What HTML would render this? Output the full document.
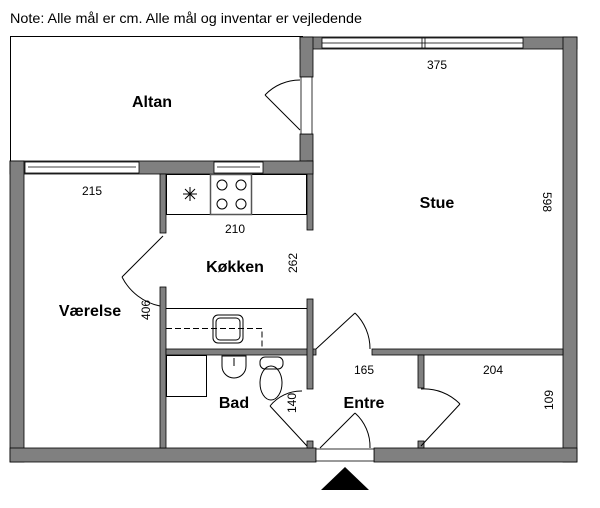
<!DOCTYPE html>
<html><head><style>body{margin:0;background:#fff}svg{display:block}</style></head>
<body>
<svg width="600" height="508" viewBox="0 0 600 508" xmlns="http://www.w3.org/2000/svg" font-family="Liberation Sans, sans-serif">
<text x="10" y="23" font-size="14" textLength="352" lengthAdjust="spacingAndGlyphs">Note: Alle mål er cm. Alle mål og inventar er vejledende</text>
<!-- Altan outline -->
<rect x="10.5" y="36.5" width="292" height="125" fill="none" stroke="#000" stroke-width="1"/>
<g fill="#808080" stroke="#000" stroke-width="0.8">
<!-- Stue top wall -->
<rect x="300" y="37" width="277" height="12"/>
<!-- right outer wall -->
<rect x="563" y="37" width="14" height="425"/>
<!-- Stue left wall (altan) -->
<rect x="300" y="37" width="13" height="40"/>
<rect x="300" y="134" width="13" height="40"/>
<rect x="307" y="161" width="6" height="69"/>
<!-- bedroom top wall -->
<rect x="10" y="161" width="303" height="13"/>
<!-- left outer wall -->
<rect x="10" y="161" width="14" height="301"/>
<!-- bottom wall -->
<rect x="10" y="448" width="306" height="14"/>
<rect x="374" y="448" width="203" height="14"/>
<!-- bedroom/kitchen wall -->
<rect x="160" y="174" width="6" height="59"/>
<rect x="160" y="287" width="6" height="161"/>
<!-- kitchen/bath wall -->
<rect x="166" y="349" width="150" height="6"/>
<rect x="307" y="299" width="6" height="90"/>
<!-- stue/entre wall -->
<rect x="372" y="349" width="191" height="6"/>
<rect x="418" y="355" width="6" height="33"/>
<rect x="418" y="441" width="6" height="7"/>
<rect x="307" y="441" width="6" height="7"/>
</g>
<!-- windows -->
<g fill="#fff" stroke="#000" stroke-width="0.8">
<rect x="322" y="38" width="201" height="10"/>
<line x1="322" y1="43" x2="523" y2="43"/>
<line x1="422" y1="38" x2="422" y2="48"/><line x1="425" y1="38" x2="425" y2="48"/>
<rect x="25" y="162" width="114" height="11"/>
<line x1="28" y1="167" x2="136" y2="167"/>
<rect x="214" y="162" width="49" height="11"/>
<line x1="217" y1="167" x2="260" y2="167"/>
<rect x="301" y="77" width="11" height="57"/>
<rect x="316" y="449" width="58" height="12"/>
</g>
<!-- kitchen counters -->
<g fill="none" stroke="#000" stroke-width="1">
<rect x="166.5" y="174.5" width="140" height="40"/>
<rect x="210.5" y="174.5" width="41" height="40" stroke="#555" stroke-width="1.5"/>
<circle cx="222" cy="185" r="5"/><circle cx="241" cy="185" r="5"/>
<circle cx="222" cy="204" r="5"/><circle cx="241" cy="204" r="5"/>
<path d="M183 194h14M190 187v14M185 189l10 10M195 189l-10 10"/>
<path d="M166 308.5H307"/>
<path d="M166 328.5H262V349" stroke-dasharray="6 3"/>
<rect x="213" y="315" width="30" height="28" rx="5"/>
<rect x="216" y="318" width="24" height="22" rx="4"/>
<!-- bath -->
<rect x="166.5" y="355.5" width="40" height="41"/>
<path d="M222 356h24v10a12 12 0 0 1-24 0z"/>
<line x1="234" y1="358" x2="234" y2="366"/>
<rect x="260" y="357" width="23" height="12" rx="5"/>
<ellipse cx="271" cy="383" rx="11" ry="17"/>
<!-- doors -->
<path d="M300 130L265 95M265 95A48 48 0 0 1 300 80"/>
<path d="M163 236L122 277M122 277A55 55 0 0 0 160 306"/>
<path d="M316 349L355 313M355 313A50 50 0 0 1 370 349"/>
<path d="M307 446L270 406M270 406A40 40 0 0 1 302 391"/>
<path d="M320 448L355 413M355 413A45 45 0 0 1 370 448"/>
<path d="M421 446L460 404M460 404A50 50 0 0 0 421 389"/>
</g>
<polygon points="345,467 321,490 369,490" fill="#000"/>
<g font-size="16" font-weight="bold" text-anchor="middle">
<text x="152" y="107">Altan</text>
<text x="437" y="208">Stue</text>
<text x="235" y="272">Køkken</text>
<text x="90" y="316">Værelse</text>
<text x="234" y="408">Bad</text>
<text x="364" y="408">Entre</text>
</g>
<g font-size="12" text-anchor="middle">
<text x="92" y="195">215</text>
<text x="235" y="233">210</text>
<text x="437" y="69">375</text>
<text x="364" y="374">165</text>
<text x="493" y="374">204</text>
<text transform="translate(297,263) rotate(-90)">262</text>
<text transform="translate(150,310) rotate(-90)">406</text>
<text transform="translate(543,202) rotate(90)">598</text>
<text transform="translate(296,403) rotate(-90)">140</text>
<text transform="translate(553,400) rotate(-90)">109</text>
</g>
</svg>
</body></html>
